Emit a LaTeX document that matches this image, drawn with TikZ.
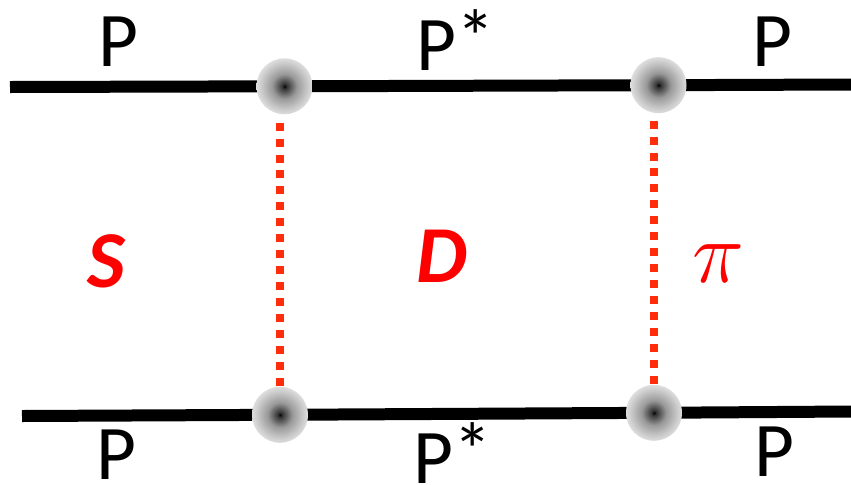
\RequirePackage{fix-cm}
\documentclass[tikz,border=0pt]{standalone}
\usepackage{fontspec}
\setmainfont{Carlito}
\usepackage{xcolor}
\usepackage{tikz}
\usetikzlibrary{calc, backgrounds}

\definecolor{linkred}{RGB}{255,45,10}
\pgfdeclareradialshading{blobshade}{\pgfpoint{0bp}{0bp}}{%
  color(0bp)=(black); color(2bp)=(black!80); color(11bp)=(black!40);
  color(20bp)=(black!22); color(25bp)=(black!13); color(50bp)=(black!13)}
\newcommand{\pstar}{P\raisebox{0.08em}{*}}

\begin{document}
\begin{tikzpicture}[
    x=0.02cm, y=-0.02cm,
    blob/.style={circle, minimum size=1.12cm, inner sep=0pt, shading=blobshade},
    prop/.style={line width=0.24cm, draw=black},
    link/.style={line width=0.16cm, draw=linkred, dash pattern=on 0.16cm off 0.16cm},
    lab/.style={inner sep=1pt, font=\fontsize{44}{44}\selectfont},
    chan/.style={text=red, font=\fontsize{46}{46}\selectfont\bfseries\itshape},
]
    \useasboundingbox (0,0) rectangle (851,484);

    \coordinate (tl) at (10,87);
    \coordinate (tr) at (851,84.5);
    \coordinate (bl) at (22,416);
    \coordinate (br) at (851,411.5);

    \node[blob] (ul) at (284.5,86.3) {};
    \node[blob] (ur) at (658.5,85.2) {};
    \node[blob] (ll) at (280,414.8) {};
    \node[blob] (lr) at (654,412.8) {};

    \begin{scope}[on background layer]
        \draw[prop] (tl) -- (ul.center) -- (ur.center) -- (tr);
        \draw[prop] (bl) -- (ll.center) -- (lr.center) -- (br);
    \end{scope}

    % exchanges
    \draw[link] (ll.north) -- (ll.north |- ul.south);
    \draw[link] (lr.north) -- (lr.north |- ur.south);

    % Annotations
    \node[lab] (p1) at (118,42) {P};
    \node[lab] (p2) at (456,40) {\pstar};
    \node[lab] (p3) at (772,42) {P};
    \node[lab] (p4) at (116,455) {P};
    \node[lab] (p5) at (453,453) {\pstar};
    \node[lab] (p6) at (774,452) {P};

    \node[chan] (s) at (106,261) {S};
    \node[chan] (d) at (442,256) {D};
    \node[text=red, font=\fontsize{50}{50}\selectfont] (pi) at (718,264) {$\pi$};
\end{tikzpicture}
\end{document}
